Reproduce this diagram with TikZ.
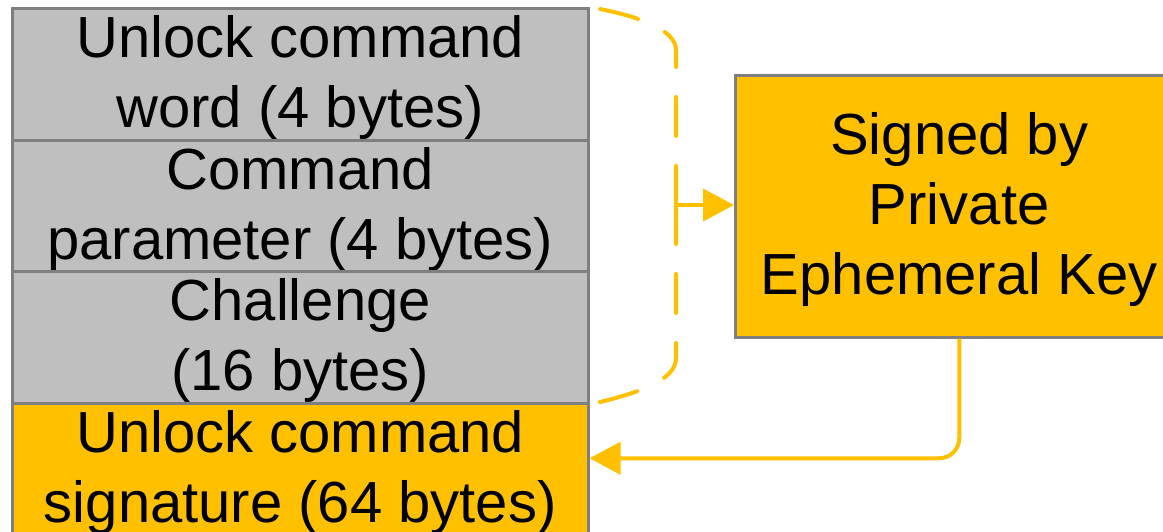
\documentclass[tikz,border=0pt]{standalone}
\usepackage{fontspec}
\setmainfont{Liberation Sans}
\usetikzlibrary{arrows.meta}
\definecolor{amber}{HTML}{FFC000}
\definecolor{cellgray}{HTML}{BFBFBF}
\definecolor{edgegray}{HTML}{7F7F7F}
\newcommand{\fieldfont}{\fontsize{58}{70}\selectfont}
\tikzset{
  field/.style={draw=edgegray, line width=2.5pt, fill=cellgray,
    minimum width=576pt, inner sep=0pt, align=center, anchor=north west,
    font=\fieldfont},
  sigfield/.style={field, fill=amber},
  keybox/.style={draw=edgegray, line width=2.5pt, fill=amber,
    minimum width=448pt, minimum height=262pt, inner sep=0pt, align=center,
    anchor=north west, font=\fieldfont},
  brace/.style={draw=amber, line width=4pt, line cap=round,
    dash pattern=on 39pt off 30pt},
  conn/.style={draw=amber, line width=4pt,
    -{Triangle[length=31pt,width=32pt]}},
}
\begin{document}
\begin{tikzpicture}[x=1pt,y=-1pt]
  \useasboundingbox (0,0) rectangle (1163,531);
  \fill[white] (0,0) rectangle (1163,531);

  % message fields stacked top to bottom
  \node[field, minimum height=132pt] (cmd) at (11,7)
    {\strut Unlock command\\word (4 bytes)};
  \node[field, minimum height=131pt] (param) at (11,139)
    {\strut Command\\parameter (4 bytes)};
  \node[field, minimum height=132pt] (chal) at (11,270)
    {\strut Challenge\\(16 bytes)};
  \node[sigfield, minimum height=132pt] (sig) at (11,402)
    {\strut Unlock command\\signature (64 bytes)};

  % signing key
  \node[keybox] (key) at (734,74)
    {\strut Signed by\\Private\\Ephemeral Key};

  % dashed brace over the signed fields, drawn from its middle outwards
  \coordinate (mid) at (676,205);
  \draw[brace] (mid) -- (676,50) .. controls (676,30) and (640,16) .. (cmd.north east);
  \draw[brace] (mid) -- (676,358) .. controls (676,380) and (640,393) .. (chal.south east);

  % brace to key, key back to signature field
  \draw[conn] (mid) -- (key.west |- mid);
  \draw[conn, rounded corners=20pt] (key.south) |- ([yshift=11pt]sig.east);
\end{tikzpicture}
\end{document}
